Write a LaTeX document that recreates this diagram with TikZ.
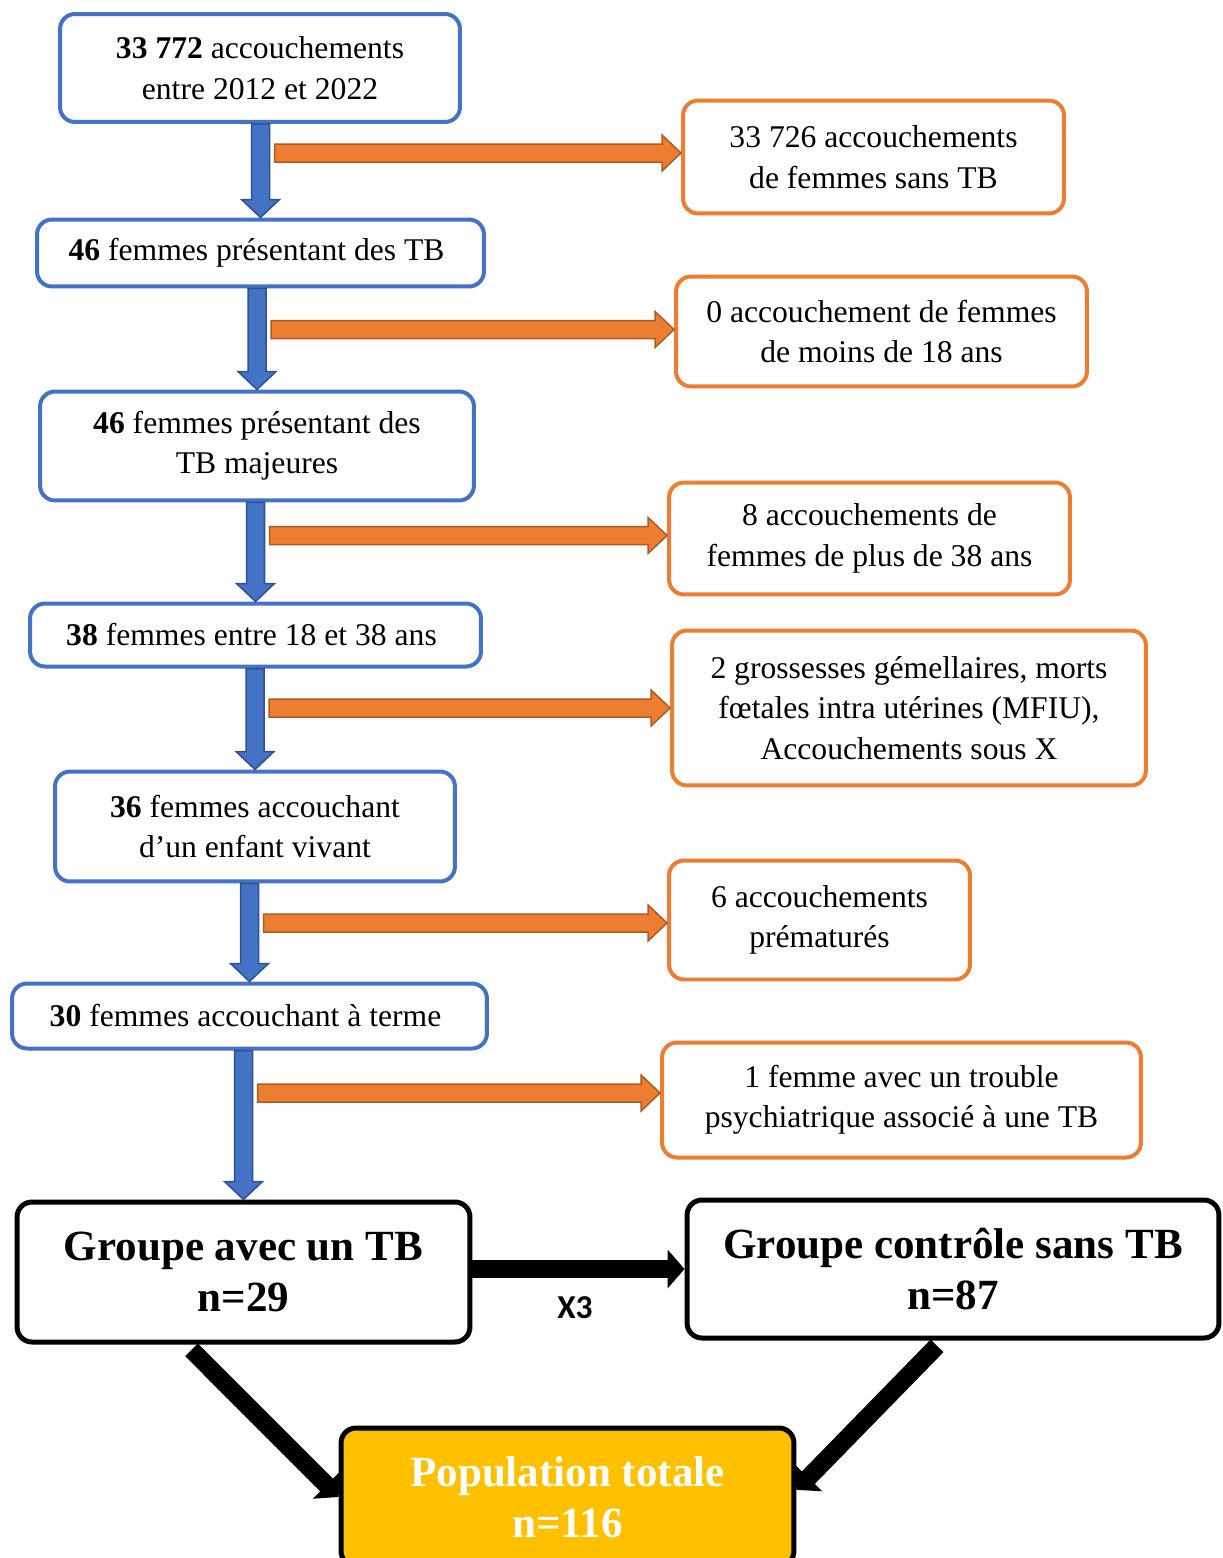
\documentclass[tikz,border=0pt]{standalone}
\usepackage{fontspec}
\setmainfont{Liberation Serif}
\newfontfamily\calibfont{Carlito}
\usepackage{tikz}
\definecolor{boxblue}{HTML}{4472C4}
\definecolor{arrowblue}{HTML}{2F528F}
\definecolor{boxorange}{HTML}{ED7D31}
\definecolor{arroworange}{HTML}{AE5A21}
\definecolor{popgold}{HTML}{FFC000}
\tikzset{
  base_font/.style = {font=\fontsize{18}{23}\selectfont},
  big_font/.style = {font=\fontsize{24.5}{29}\selectfont\bfseries},
  x3_font/.style = {font=\fontsize{19}{23}\selectfont\calibfont\bfseries}
}
\tikzset{
  box/.style = {base_font, align=center, rounded corners=0.3cm, line width=0.08cm, fill=white},
  blue_box/.style = {box, draw=boxblue},
  orange_box/.style = {box, draw=boxorange},
  group_box/.style = {big_font, align=center, rounded corners=0.3cm, line width=0.1cm, draw=black, fill=white}
}
\tikzset{
  down_arrow/.style = {fill=boxblue, draw=arrowblue, line width=0.03cm,
    to path={($(\tikztostart)+(-9,0)$) -- ($(\tikztotarget)+(-9,-18)$) -- ($(\tikztotarget)+(-19,-18)$)
      -- (\tikztotarget) -- ($(\tikztotarget)+(19,-18)$) -- ($(\tikztotarget)+(9,-18)$)
      -- ($(\tikztostart)+(9,0)$) -- cycle}},
  side_arrow/.style = {fill=boxorange, draw=arroworange, line width=0.03cm,
    to path={($(\tikztostart)+(0,-9)$) -- ($(\tikztotarget)+(-19,-9)$) -- ($(\tikztotarget)+(-19,-18)$)
      -- (\tikztotarget) -- ($(\tikztotarget)+(-19,18)$) -- ($(\tikztotarget)+(-19,9)$)
      -- ($(\tikztostart)+(0,9)$) -- cycle}},
  fat_arrow/.style = {line width=0.36cm, -{Triangle[length=0.34cm, width=0.76cm]}}
}
\usetikzlibrary{calc, arrows.meta}

\begin{document}
\begin{tikzpicture}[x=0.02cm, y=-0.02cm]
        \useasboundingbox (0,0) rectangle (1223,1558);

        % Main column
        \node[blue_box, minimum width=8cm, minimum height=2.16cm] (b_1) at (260,68) {
            \textbf{33 772} accouchements\\entre 2012 et 2022
            };
        \node[blue_box, minimum width=8.94cm, minimum height=1.34cm] (b_2) at (260.5,253) {
            \textbf{46} femmes présentant des TB
            };
        \node[blue_box, minimum width=8.68cm, minimum height=2.18cm] (b_3) at (257,446) {
            \textbf{46} femmes présentant des\\TB majeures
            };
        \node[blue_box, minimum width=9.02cm, minimum height=1.26cm] (b_4) at (255.5,635) {
            \textbf{38} femmes entre 18 et 38 ans
            };
        \node[blue_box, minimum width=8cm, minimum height=2.2cm] (b_5) at (255,826.5) {
            \textbf{36} femmes accouchant\\d’un enfant vivant
            };
        \node[blue_box, minimum width=9.5cm, minimum height=1.3cm] (b_6) at (249.5,1016) {
            \textbf{30} femmes accouchant à terme
            };

        % Exclusions
        \node[orange_box, minimum width=7.62cm, minimum height=2.26cm] (o_1) at (873.5,157) {
            33 726 accouchements\\de femmes sans TB
            };
        \node[orange_box, minimum width=8.22cm, minimum height=2.2cm] (o_2) at (881.5,331.5) {
            0 accouchement de femmes\\de moins de 18 ans
            };
        \node[orange_box, minimum width=8.02cm, minimum height=2.24cm] (o_3) at (869.5,538.5) {
            8 accouchements de\\femmes de plus de 38 ans
            };
        \node[orange_box, minimum width=9.48cm, minimum height=3.1cm] (o_4) at (909,708) {
            2 grossesses gémellaires, morts\\fœtales intra utérines (MFIU),\\Accouchements sous X
            };
        \node[orange_box, minimum width=6.02cm, minimum height=2.38cm] (o_5) at (819.5,920) {
            6 accouchements\\prématurés
            };
        \node[orange_box, minimum width=9.58cm, minimum height=2.3cm] (o_6) at (901.5,1100) {
            1 femme avec un trouble\\psychiatrique associé à une TB
            };

        % Groups
        \node[group_box, minimum width=9.06cm, minimum height=2.8cm] (g_1) at (243.5,1272) {
            Groupe avec un TB\\n=29
            };
        \node[group_box, minimum width=10.64cm, minimum height=2.76cm] (g_2) at (953,1269) {
            Groupe contrôle sans TB\\n=87
            };
        \node[group_box, fill=popgold, text=white, minimum width=9.06cm, minimum height=2.76cm] (pop) at (567.5,1497) {
            Population totale\\n=116
            };
        \node[x3_font] (x_3) at (575,1308) {X3};

        % Arrows
        \path[down_arrow] (b_1.south -| b_2.north) to (b_2.north);
        \path[down_arrow] (b_2.south -| b_3.north) to (b_3.north);
        \path[down_arrow] (b_3.south -| b_4.north) to (b_4.north);
        \path[down_arrow] (b_4.south -| b_5.north) to (b_5.north);
        \path[down_arrow] (b_5.south -| b_6.north) to (b_6.north);
        \path[down_arrow] (b_6.south -| g_1.north) to (g_1.north);

        \coordinate (c_1) at ($(b_2.north |- o_1.west)+(14,-4)$);
        \coordinate (c_2) at ($(b_3.north |- o_2.west)+(14,-2)$);
        \coordinate (c_3) at ($(b_4.north |- o_3.west)+(14,-3)$);
        \coordinate (c_4) at ($(b_5.north |- o_4.west)+(14,0)$);
        \coordinate (c_5) at ($(b_6.north |- o_5.west)+(14,3)$);
        \coordinate (c_6) at ($(g_1.north |- o_6.west)+(14,-7)$);
        \path[side_arrow] (c_1) to (c_1 -| o_1.west);
        \path[side_arrow] (c_2) to (c_2 -| o_2.west);
        \path[side_arrow] (c_3) to (c_3 -| o_3.west);
        \path[side_arrow] (c_4) to (c_4 -| o_4.west);
        \path[side_arrow] (c_5) to (c_5 -| o_5.west);
        \path[side_arrow] (c_6) to (c_6 -| o_6.west);

        \draw[fat_arrow] (g_1.east |- g_2.west) -- (g_2.west);
        \draw[fat_arrow, shorten <=0.15cm] ($(g_1.south west)!0.375!(g_1.south east)$) -- ($(pop.north west)!0.5!(pop.south west)$);
        \draw[fat_arrow, shorten <=0.15cm] ($(g_2.south west)!0.48!(g_2.south east)$) -- ($(pop.north east)!0.45!(pop.south east)$);
\end{tikzpicture}
\end{document}
